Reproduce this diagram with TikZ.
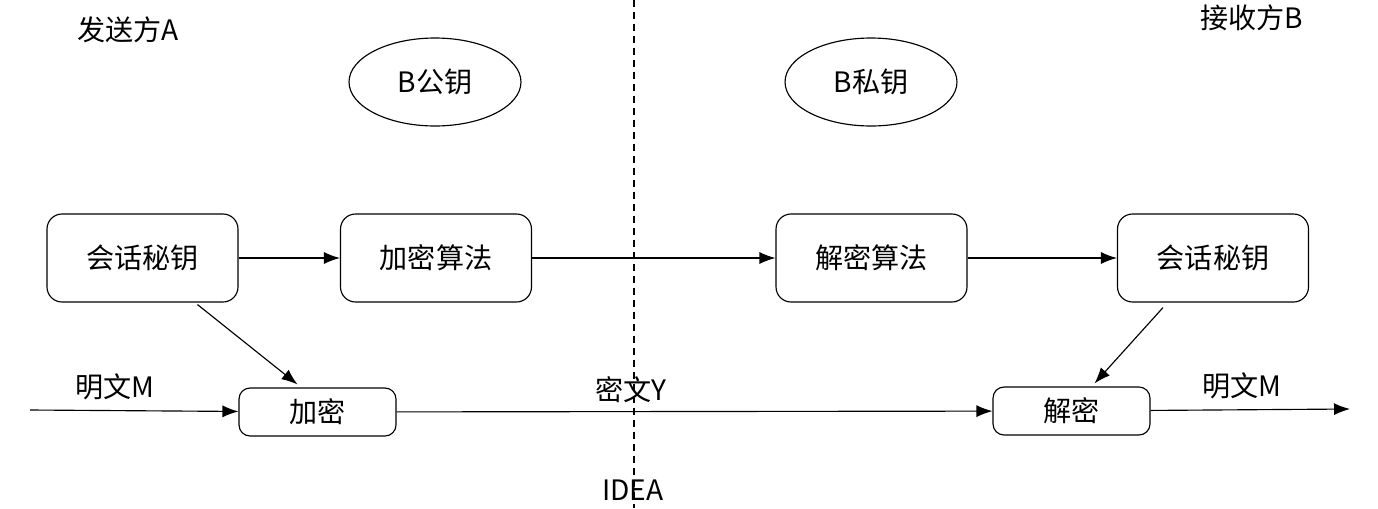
\documentclass[tikz,border=0pt]{standalone}
\usepackage{fontspec}
\setmainfont{Noto Sans CJK SC}
\usetikzlibrary{arrows.meta,shapes.geometric}
\begin{document}
\begin{tikzpicture}[x=0.02cm,y=-0.02cm,
  font=\fontsize{16}{19}\selectfont,
  line width=0.65pt,
  bigbox/.style={draw,rounded corners=0.3cm,minimum width=3.82cm,minimum height=1.76cm},
  smallbox/.style={draw,rounded corners=0.22cm,minimum width=3.14cm,minimum height=0.96cm},
  keynode/.style={draw,ellipse,minimum width=3.44cm,minimum height=1.76cm},
  arr/.style={-{Latex[length=0.32cm,width=0.24cm]}}]
\useasboundingbox (0,0) rectangle (1378,508);
% parties
\node (sender) at (128,30) {发送方A};
\node (receiver) at (1252,18) {接收方B};
% keys
\node[keynode] (pub) at (435,82) {B公钥};
\node[keynode] (priv) at (871,82) {B私钥};
% upper row
\node[bigbox] (skA) at (142.5,258) {会话秘钥};
\node[bigbox] (enc) at (436,258) {加密算法};
\node[bigbox] (dec) at (871.5,258) {解密算法};
\node[bigbox] (skB) at (1213,258) {会话秘钥};
% lower row
\node[smallbox] (encM) at (317.5,412) {加密};
\node[smallbox] (decM) at (1071.5,411) {解密};
\coordinate (inM) at (30,410);
\coordinate (outM) at (1350,409);
% divider
\coordinate (top) at (634,0);
\coordinate (bot) at (634,508);
\draw[dash pattern=on 0.14cm off 0.1cm] (top)--(bot);
% labels
\node (plainA) at (115,387) {明文M};
\node (cipher) at (631,390) {密文Y};
\node (idea) at (633,490) {IDEA};
\node (plainB) at (1242,386) {明文M};
% connectors
\draw[arr] (skA)--(enc);
\draw[arr] (enc)--(dec);
\draw[arr] (dec)--(skB);
\draw[arr] ([xshift=1.1cm,yshift=-0.04cm]skA.south)--([xshift=-0.4cm,yshift=0.06cm]encM.north);
\draw[arr] ([xshift=-1cm,yshift=-0.1cm]skB.south)--([xshift=0.46cm,yshift=0.06cm]decM.north);
\draw[arr] (inM)--(encM);
\draw[arr] (encM)--(decM);
\draw[arr] (decM)--(outM);
\end{tikzpicture}
\end{document}
